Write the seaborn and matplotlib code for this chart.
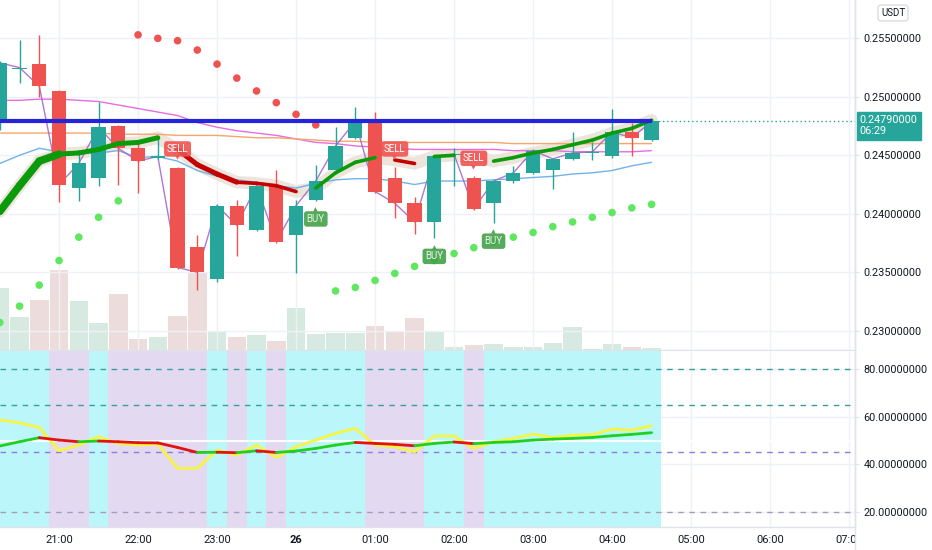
import matplotlib
matplotlib.use("Agg")
import matplotlib.pyplot as plt
import matplotlib.transforms as mtransforms
from matplotlib.patches import Rectangle
from matplotlib.lines import Line2D
import numpy as np
import pandas as pd
import seaborn as sns

# 15 min candles, 20:15 -> 04:30
times = ["20:15", "20:30", "20:45", "21:00", "21:15", "21:30", "21:45",
         "22:00", "22:15", "22:30", "22:45", "23:00", "23:15", "23:30", "23:45",
         "00:00", "00:15", "00:30", "00:45", "01:00", "01:15", "01:30", "01:45",
         "02:00", "02:15", "02:30", "02:45", "03:00", "03:15", "03:30", "03:45",
         "04:00", "04:15", "04:30"]
opens = [0.2478, 0.2524, 0.2528, 0.2505, 0.2422, 0.2431, 0.2475, 0.2456, 0.2448, 0.2439,
         0.2372, 0.2344, 0.2407, 0.2386, 0.2424, 0.2382, 0.2412, 0.2437, 0.2465, 0.2481,
         0.2431, 0.2409, 0.2393, 0.2450, 0.2431, 0.2409, 0.2428, 0.2435, 0.2437, 0.2447,
         0.2452, 0.2449, 0.2470, 0.2463]
highs = [0.2531, 0.2549, 0.2553, 0.2506, 0.2453, 0.2496, 0.2476, 0.2460, 0.2465, 0.2440,
         0.2382, 0.2408, 0.2412, 0.2425, 0.2437, 0.2412, 0.2442, 0.2474, 0.2491, 0.2487,
         0.2440, 0.2414, 0.2450, 0.2456, 0.2432, 0.2429, 0.2441, 0.2455, 0.2448, 0.2470,
         0.2461, 0.2490, 0.2478, 0.2481]
lows = [0.2472, 0.2512, 0.2500, 0.2410, 0.2411, 0.2424, 0.2425, 0.2418, 0.2447, 0.2353,
        0.2335, 0.2342, 0.2364, 0.2385, 0.2375, 0.2349, 0.2411, 0.2436, 0.2464, 0.2418,
        0.2396, 0.2383, 0.2379, 0.2424, 0.2403, 0.2392, 0.2426, 0.2434, 0.2421, 0.2446,
        0.2446, 0.2448, 0.2449, 0.2462]
closes = [0.2529, 0.2525, 0.2509, 0.2425, 0.2443, 0.2474, 0.2456, 0.2445, 0.2449, 0.2354,
          0.2350, 0.2407, 0.2390, 0.2424, 0.2376, 0.2407, 0.2428, 0.2458, 0.2479, 0.2419,
          0.2409, 0.2393, 0.2449, 0.2451, 0.2404, 0.2428, 0.2435, 0.2454, 0.2447, 0.2452,
          0.2453, 0.2470, 0.2465, 0.2479]
volumes = [62, 33, 50, 80, 49, 27, 56, 11, 13, 34, 77, 18, 13, 15, 9, 42, 16, 17, 17, 24,
           18, 32, 18, 3, 5, 6, 3, 3, 7, 23, 1, 6, 3, 2]

ma_blue = [0.2443, 0.2450, 0.2456, 0.2453, 0.2452, 0.2452, 0.2454, 0.2448, 0.2449, 0.2445,
           0.2437, 0.2432, 0.2429, 0.2427, 0.2424, 0.2422, 0.2426, 0.2429, 0.2430, 0.2430,
           0.2428, 0.2425, 0.2428, 0.2428, 0.2428, 0.2429, 0.2430, 0.2431, 0.2432, 0.2434,
           0.2435, 0.2437, 0.2441, 0.2444]
ma_pink = [0.2497, 0.2497, 0.2498, 0.2498, 0.2497, 0.2496, 0.2493, 0.2490, 0.2487, 0.2484,
           0.2478, 0.2474, 0.2471, 0.2469, 0.2467, 0.2464, 0.2461, 0.2460, 0.2458, 0.2457,
           0.2456, 0.2455, 0.2455, 0.2455, 0.2455, 0.2455, 0.2454, 0.2454, 0.2454, 0.2453,
           0.2453, 0.2453, 0.2453, 0.2454]
ma_orange = [0.2469, 0.2469, 0.2469, 0.2469, 0.2469, 0.2469, 0.2468, 0.2468, 0.2468, 0.2467,
             0.2467, 0.2467, 0.2466, 0.2465, 0.2465, 0.2464, 0.2463, 0.2462, 0.2462, 0.2461,
             0.2461, 0.2461, 0.2461, 0.2461, 0.2461, 0.2461, 0.2460, 0.2460, 0.2460, 0.2460,
             0.2460, 0.2460, 0.2460, 0.2460]
trend_ma = [0.2402, 0.2424, 0.2445, 0.2451, 0.2452, 0.2455, 0.2460, 0.2461, 0.2465, 0.2455,
            0.2442, 0.2434, 0.2427, 0.2426, 0.2424, 0.2419, 0.2422, 0.2435, 0.2444, 0.2448,
            0.2446, 0.2443, 0.2449, 0.2450, 0.2449, 0.2445, 0.2448, 0.2452, 0.2455, 0.2459,
            0.2463, 0.2469, 0.2473, 0.2480]
sar = [0.2307, 0.2321, 0.2339, 0.2360, 0.2380, 0.2397, 0.2411, 0.2553, 0.2550, 0.2548,
       0.2540, 0.2528, 0.2516, 0.2505, 0.2495, 0.2485, 0.2476, 0.2334, 0.2337, 0.2343,
       0.2349, 0.2355, 0.2360, 0.2366, 0.2371, 0.2376, 0.2380, 0.2384, 0.2389, 0.2393,
       0.2397, 0.2401, 0.2405, 0.2408]
level = 0.2479

sig_idx = [9, 16, 20, 22, 24, 25]
sig_kind = ["SELL", "BUY", "SELL", "BUY", "SELL", "BUY"]

osc_fast = [58.6, 57.5, 55.5, 45.7, 48.1, 51.6, 48.8, 48.1, 48.5, 38.3, 38.3, 46.0, 43.9,
            48.1, 42.9, 47.4, 50.2, 53.0, 55.1, 48.1, 47.4, 45.3, 51.9, 51.9, 46.7, 49.5,
            50.9, 52.7, 51.3, 52.3, 52.5, 54.8, 54.4, 56.2]
osc_signal = [47.7, 49.5, 51.2, 50.2, 49.5, 49.8, 49.5, 49.1, 49.0, 47.1, 45.0, 45.1, 44.9,
              45.7, 45.0, 45.6, 46.7, 48.1, 49.2, 48.8, 48.4, 47.8, 48.8, 49.4, 48.7, 49.2,
              49.5, 50.2, 50.6, 50.9, 51.3, 52.0, 52.6, 53.3]
osc_levels = [80, 65, 45, 20]
osc_level_colors = ["#3a9e9c", "#3a9e9c", "#8a7be0", "#a39cbc"]

hour_pos = [3, 7, 11, 15, 19, 23, 27, 31, 35, 39, 43]
hour_labels = ["21:00", "22:00", "23:00", "26", "01:00", "02:00", "03:00", "04:00",
               "05:00", "06:00", "07:00"]
price_ticks = [0.230, 0.235, 0.240, 0.245, 0.250, 0.255]
osc_ticks = [20, 40, 60, 80]

UP = "#26a69a"
DOWN = "#ef5350"
TXT = "#131722"
GRID = "#eff1f6"
SEP = "#dfe2ea"

sns.set_theme(style="white")
plt.rcParams["font.family"] = ["Roboto", "DejaVu Sans"]

df = pd.DataFrame({"t": times, "open": opens, "high": highs, "low": lows,
                   "close": closes, "vol": volumes})
df["i"] = np.arange(len(df))
df["up"] = df["close"] >= df["open"]
n = len(df)

W, H = 932, 550
fig = plt.figure(figsize=(W / 100, H / 100), dpi=100)
fig.patch.set_facecolor("white")
ax = fig.add_axes([0, 1 - 350 / H, 855 / W, 350 / H])
ax2 = fig.add_axes([0, 1 - 527 / H, 855 / W, 176 / H])
axv = ax.twinx()
axv.set_zorder(ax.get_zorder() - 1)
ax.patch.set_visible(False)

# volume
vol_cols = ["#d6eae1" if u else "#eddcdc" for u in df["up"]]
axv.bar(df["i"], df["vol"], width=0.94, color=vol_cols, linewidth=0)
axv.set_ylim(0, 350)
axv.set_yticks([])
for s in axv.spines.values():
    s.set_visible(False)

# moving averages + close line
ax.plot(df["i"], ma_pink, color="#e46ee0", lw=1, zorder=2)
ax.plot(df["i"], ma_orange, color="#f5a56e", lw=1, zorder=2)
ax.plot(df["i"], ma_blue, color="#72b2ea", lw=1, zorder=2)
ax.plot(df["i"], df["close"], color="#a45fcb", lw=1, alpha=0.85, zorder=2)

# trend line with glow, coloured by signal state
trend = []
state = "up"
sig_map = dict(zip(sig_idx, sig_kind))
for i in range(n):
    if i in sig_map:
        state = "up" if sig_map[i] == "BUY" else "down"
    trend.append(state)
ax.plot(df["i"], trend_ma, color="#ebe3d9", lw=9, alpha=0.9,
        solid_capstyle="round", zorder=1.5)
for i in range(n - 1):
    if trend[i] != trend[i + 1]:
        continue
    lw = 5.5 if i < 3 else (3.6 if i < 12 else 2.6)
    ax.plot([i, i + 1], [trend_ma[i], trend_ma[i + 1]],
            color="#0b9a0b" if trend[i] == "up" else "#c40000",
            lw=lw, solid_capstyle="round", zorder=4)

# candles
cols = [UP if u else DOWN for u in df["up"]]
ax.vlines(df["i"], df["low"], df["high"], color=cols, lw=1, zorder=3)
body = (df["close"] - df["open"]).where((df["close"] - df["open"]).abs() > 0.00008,
                                        0.00008)
ax.bar(df["i"], body, bottom=df["open"], width=0.72, color=cols, linewidth=0, zorder=3)

# parabolic SAR
sar_side = ["above" if s > c else "below" for s, c in zip(sar, closes)]
sns.scatterplot(x=df["i"], y=sar, hue=sar_side,
                palette={"above": "#f05252", "below": "#5fe85f"},
                s=30, linewidth=0, legend=False, ax=ax, zorder=2)

# level + last price line
ax.axhline(closes[-1], color=UP, lw=1, ls=(0, (1, 2)), zorder=1)
ax.hlines(level, 0, n - 1, color="#2424d8", lw=3, zorder=5)

# buy / sell labels with small pointers
for i, kind in zip(sig_idx, sig_kind):
    if kind == "SELL":
        ax.annotate("▼", xy=(i, highs[i]), xytext=(0, 6.5), textcoords="offset points",
                    ha="center", va="center", fontsize=4.5, color=DOWN, alpha=0.9, zorder=7)
        ax.annotate("SELL", xy=(i, highs[i]), xytext=(0, 13), textcoords="offset points",
                    ha="center", va="center", fontsize=7, color="white",
                    bbox=dict(boxstyle="round,pad=0.28", fc=DOWN, ec="none", alpha=0.9),
                    zorder=7)
    else:
        ax.annotate("▲", xy=(i, lows[i]), xytext=(0, -6.5), textcoords="offset points",
                    ha="center", va="center", fontsize=4.5, color="#3f9f45", alpha=0.88,
                    zorder=7)
        ax.annotate("BUY", xy=(i, lows[i]), xytext=(0, -13), textcoords="offset points",
                    ha="center", va="center", fontsize=7, color="#eaf6ea",
                    bbox=dict(boxstyle="round,pad=0.28", fc="#3f9f45", ec="none", alpha=0.88),
                    zorder=7)

# current price tag
trans = mtransforms.blended_transform_factory(ax.transAxes, ax.transData)
ax.annotate(f"{closes[-1]:.8f}\n06:29", xy=(1, closes[-1]), xycoords=trans,
            xytext=(3.5, 4.5), textcoords="offset points", ha="left", va="top",
            fontsize=7.8, color="white", linespacing=1.15, annotation_clip=False,
            bbox=dict(boxstyle="square,pad=0.3", fc=UP, ec=UP), zorder=8)

ax.set_xlim(0.01, 43.3)
ax.set_ylim(0.22835, 0.25828)
ax.yaxis.tick_right()
ax.set_yticks(price_ticks)
ax.set_yticklabels([f"{v:.8f}" for v in price_ticks])
ax.set_xticks(hour_pos)
ax.tick_params(axis="x", length=0, labelbottom=False)
ax.tick_params(axis="y", length=3, width=0.8, color=SEP, pad=3, labelsize=7.8,
               labelcolor=TXT)
ax.grid(True, color=GRID, lw=1)
ax.set_axisbelow(True)
for k in ["top", "left"]:
    ax.spines[k].set_visible(False)
for k in ["bottom", "right"]:
    ax.spines[k].set_color(SEP)
    ax.spines[k].set_linewidth(1)

# oscillator pane: background follows the signal direction
falling = [False] + [osc_signal[i] < osc_signal[i - 1] for i in range(1, n)]
start = 0
for i in range(1, n + 1):
    if i == n or falling[i] != falling[start]:
        ax2.axvspan(start - 0.5, i - 0.5, color="#e3d9f1" if falling[start] else "#bbf7fa",
                    lw=0, zorder=0.7)
        start = i
for lv, c in zip(osc_levels, osc_level_colors):
    ax2.axhline(lv, color=c, lw=1, ls=(0, (4, 4)), zorder=1)
ax2.axhline(50, color="white", lw=1.5, zorder=1)
sns.lineplot(x=df["i"], y=osc_fast, color="#f6f542", lw=2, ax=ax2, zorder=3)
for i in range(n - 1):
    ax2.plot([i, i + 1], [osc_signal[i], osc_signal[i + 1]],
             color="#1fd01f" if osc_signal[i + 1] >= osc_signal[i] else "#e01212",
             lw=2, zorder=4, solid_capstyle="round")

ax2.set_xlim(0.01, 43.3)
ax2.set_ylim(13.7, 87.6)
ax2.yaxis.tick_right()
ax2.set_yticks(osc_ticks)
ax2.set_yticklabels([f"{v:.8f}" for v in osc_ticks])
ax2.set_xticks(hour_pos)
ax2.set_xticklabels(hour_labels)
ax2.set_xlabel("")
ax2.set_ylabel("")
for lab in ax2.get_xticklabels():
    if lab.get_text() == "26":
        lab.set_fontweight("bold")
ax2.tick_params(axis="x", length=0, pad=6, labelsize=8, labelcolor=TXT)
ax2.tick_params(axis="y", length=3, width=0.8, color=SEP, pad=3, labelsize=7.8,
                labelcolor=TXT)
ax2.grid(True, color=GRID, lw=1, zorder=0.5)
ax2.set_axisbelow(True)
for k in ["top", "left"]:
    ax2.spines[k].set_visible(False)
for k in ["bottom", "right"]:
    ax2.spines[k].set_color(SEP)
    ax2.spines[k].set_linewidth(1)

# price scale area: hide time labels behind it, separator, currency badge
fig.add_artist(Rectangle((855.5 / W, 0), 1, 22 / H, transform=fig.transFigure,
                         color="white", zorder=10))
fig.add_artist(Line2D([855 / W, 855 / W], [0, 1], transform=fig.transFigure,
                      color=SEP, lw=1, zorder=11))
fig.text(893 / W, 1 - 13 / H, "USDT", ha="center", va="center", fontsize=7, color=TXT,
         bbox=dict(boxstyle="round,pad=0.3", fc="white", ec="#d1d4dc", lw=0.8), zorder=12)

fig.savefig("out.png", dpi=100, facecolor="white")
